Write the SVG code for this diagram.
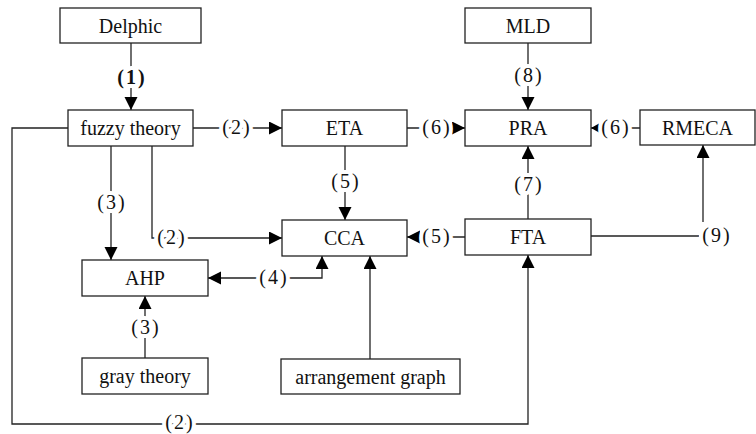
<svg xmlns="http://www.w3.org/2000/svg" width="756" height="434" viewBox="0 0 756 434">
  <defs>
    <marker id="arr" markerUnits="userSpaceOnUse" markerWidth="14" markerHeight="14" refX="13" refY="6.5" orient="auto-start-reverse">
      <path d="M0,0 L13,6.5 L0,13 Z" fill="#000"/>
    </marker>
    <marker id="arrS" markerUnits="userSpaceOnUse" markerWidth="10" markerHeight="10" refX="8" refY="4.5" orient="auto">
      <path d="M0,0 L8,4.5 L0,9 Z" fill="#000"/>
    </marker>
  </defs>

  <!-- connectors and their step labels -->
  <g id="connectors">
    <g fill="none" stroke="#222" stroke-width="1.3">
      <path d="M131,43 V110" marker-end="url(#arr)"/>
      <path d="M193,128 H282" marker-end="url(#arr)"/>
      <path d="M407,128 H465" marker-end="url(#arr)"/>
      <path d="M640,128 H591" marker-end="url(#arrS)"/>
      <path d="M528,43 V110" marker-end="url(#arr)"/>
      <path d="M345,146 V220" marker-end="url(#arr)"/>
      <path d="M465,237 H407" marker-end="url(#arr)"/>
      <path d="M528,219 V146" marker-end="url(#arr)"/>
      <path d="M591,236 H699"/>
      <path d="M703,222 V145" marker-end="url(#arr)"/>
      <path d="M111,146 V260" marker-end="url(#arr)"/>
      <path d="M152,146 V238 H282" marker-end="url(#arr)"/>
      <path d="M208,278 H322 V256" marker-start="url(#arr)" marker-end="url(#arr)"/>
      <path d="M145,358 V296" marker-end="url(#arr)"/>
      <path d="M370,359 V256" marker-end="url(#arr)"/>
      <path d="M68,128 H12 V424 H528 V255" marker-end="url(#arr)"/>
    </g>
    <g fill="#111" text-anchor="middle" letter-spacing="2" stroke="#fff" stroke-width="8" stroke-linejoin="round" paint-order="stroke">
      <text style="font-family:'Liberation Serif',serif;font-size:20px" x="132" y="84" font-weight="bold">(1)</text>
      <text style="font-family:'Liberation Serif',serif;font-size:20px" x="237" y="134">(2)</text>
      <text style="font-family:'Liberation Serif',serif;font-size:20px" x="437" y="134">(6)</text>
      <text style="font-family:'Liberation Serif',serif;font-size:20px" x="616" y="134">(6)</text>
      <text style="font-family:'Liberation Serif',serif;font-size:20px" x="529" y="82">(8)</text>
      <text style="font-family:'Liberation Serif',serif;font-size:20px" x="346" y="188">(5)</text>
      <text style="font-family:'Liberation Serif',serif;font-size:20px" x="437" y="243">(5)</text>
      <text style="font-family:'Liberation Serif',serif;font-size:20px" x="529" y="191">(7)</text>
      <text style="font-family:'Liberation Serif',serif;font-size:20px" x="717" y="242">(9)</text>
      <text style="font-family:'Liberation Serif',serif;font-size:20px" x="112" y="209">(3)</text>
      <text style="font-family:'Liberation Serif',serif;font-size:20px" x="172" y="244">(2)</text>
      <text style="font-family:'Liberation Serif',serif;font-size:20px" x="274" y="284">(4)</text>
      <text style="font-family:'Liberation Serif',serif;font-size:20px" x="146" y="334">(3)</text>
      <text style="font-family:'Liberation Serif',serif;font-size:20px" x="180" y="429">(2)</text>
    </g>
  </g>

  <!-- nodes: white boxes with centred names -->
  <g text-anchor="middle" fill="#111">
    <g id="delphic"><rect x="60" y="8" width="141" height="35" fill="#fff" stroke="#222" stroke-width="1.3"/><text style="font-family:'Liberation Serif',serif;font-size:20px" x="130.5" y="32.5">Delphic</text></g>
    <g id="fuzzy"><rect x="68" y="110" width="125" height="36" fill="#fff" stroke="#222" stroke-width="1.3"/><text style="font-family:'Liberation Serif',serif;font-size:20px" x="130.5" y="135">fuzzy theory</text></g>
    <g id="eta"><rect x="282" y="110" width="125" height="36" fill="#fff" stroke="#222" stroke-width="1.3"/><text style="font-family:'Liberation Serif',serif;font-size:20px" x="344.5" y="135">ETA</text></g>
    <g id="mld"><rect x="465" y="8" width="126" height="35" fill="#fff" stroke="#222" stroke-width="1.3"/><text style="font-family:'Liberation Serif',serif;font-size:20px" x="528" y="32.5">MLD</text></g>
    <g id="pra"><rect x="465" y="110" width="126" height="36" fill="#fff" stroke="#222" stroke-width="1.3"/><text style="font-family:'Liberation Serif',serif;font-size:20px" x="528" y="135">PRA</text></g>
    <g id="rmeca"><rect x="640" y="110" width="115" height="35" fill="#fff" stroke="#222" stroke-width="1.3"/><text style="font-family:'Liberation Serif',serif;font-size:20px" x="697.5" y="134.5">RMECA</text></g>
    <g id="cca"><rect x="282" y="220" width="125" height="36" fill="#fff" stroke="#222" stroke-width="1.3"/><text style="font-family:'Liberation Serif',serif;font-size:20px" x="344.5" y="245">CCA</text></g>
    <g id="fta"><rect x="465" y="219" width="126" height="36" fill="#fff" stroke="#222" stroke-width="1.3"/><text style="font-family:'Liberation Serif',serif;font-size:20px" x="528" y="244">FTA</text></g>
    <g id="ahp"><rect x="82" y="260" width="126" height="36" fill="#fff" stroke="#222" stroke-width="1.3"/><text style="font-family:'Liberation Serif',serif;font-size:20px" x="145" y="285">AHP</text></g>
    <g id="gray"><rect x="82" y="358" width="126" height="36" fill="#fff" stroke="#222" stroke-width="1.3"/><text style="font-family:'Liberation Serif',serif;font-size:20px" x="145" y="383">gray theory</text></g>
    <g id="arrangement"><rect x="281" y="359" width="179" height="35" fill="#fff" stroke="#222" stroke-width="1.3"/><text style="font-family:'Liberation Serif',serif;font-size:20px" x="370.5" y="383.5">arrangement graph</text></g>
  </g>
</svg>
